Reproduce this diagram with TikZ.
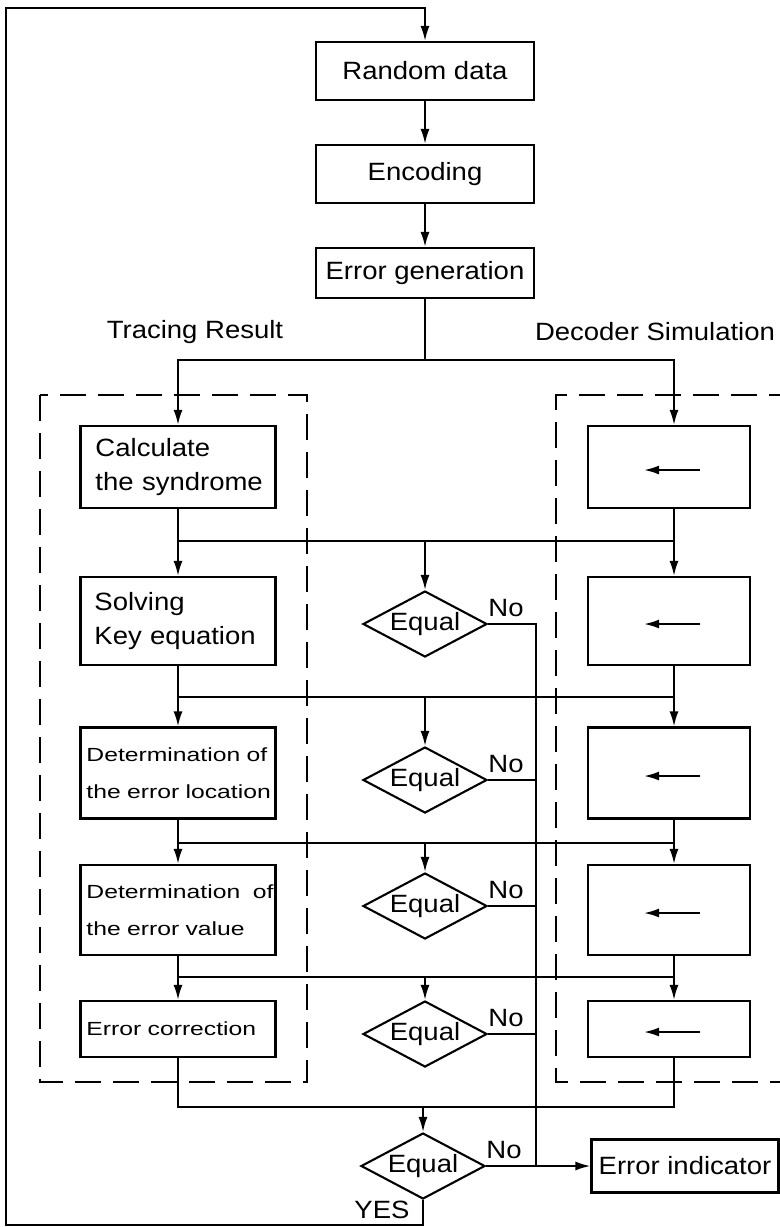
\documentclass[tikz,border=0pt]{standalone}
\usepackage{fontspec}
\setmainfont{Liberation Sans}[FakeStretch=1.1]
\newfontfamily\widesans{Liberation Sans}[FakeStretch=1.3]
\usetikzlibrary{shapes.geometric,arrows.meta,calc}
\newcommand\bigtxt{\fontsize{25bp}{34bp}\selectfont}
\newcommand\smalltxt{\widesans\fontsize{19bp}{37bp}\selectfont}
\begin{document}
\begin{tikzpicture}[x=1bp,y=-1bp,
  every node/.style={font=\bigtxt},
  line width=2bp,
  box/.style={draw, rectangle, line width=2.1bp, inner sep=0pt, align=center},
  lbox/.style={box, minimum width=195bp, align=left},
  rbox/.style={box, minimum width=162bp},
  test/.style={draw, diamond, aspect=2, inner sep=0pt, line width=2.1bp,
               minimum width=124bp, minimum height=66bp},
  arr/.style={-{Latex[length=15bp,width=9bp]}},
  frame/.style={line width=2bp, dash pattern=on 26bp off 12bp}]
\clip (0,0) rectangle (780,1227);

% main chain
\node[box, minimum width=218bp, minimum height=58bp] (rd) at (425,71) {Random data};
\node[box, minimum width=218bp, minimum height=58bp] (enc) at (425,174) {Encoding};
\node[box, minimum width=218bp, minimum height=50bp] (eg) at (425,273) {Error generation};

% column titles
\node (trace) at (195,332) {Tracing Result};
\node (sim) at (655,332) {Decoder Simulation};

% dashed frames
\draw[frame] (40,395) rectangle (307,1082);
\draw[frame] (795,395) -- (556,395) -- (556,1082) -- (795,1082);

% tracing column
\node[lbox, text width=165bp, inner xsep=15bp, minimum height=82bp] (L1) at (178,467)
  {\mbox{Calculate}\\\mbox{the syndrome}};
\node[lbox, text width=167bp, inner xsep=14bp, minimum height=88bp] (L2) at (178,621)
  {\mbox{Solving}\\\mbox{Key equation}};
\node[lbox, text width=183bp, inner xsep=6bp, minimum height=91bp, font=\smalltxt] (L3) at (178,773)
  {\mbox{Determination of}\\\mbox{the error location}};
\node[lbox, text width=183bp, inner xsep=6bp, minimum height=90bp, font=\smalltxt] (L4) at (178,910)
  {\mbox{Determination\ \ of}\\\mbox{the error value}};
\node[lbox, text width=183bp, inner xsep=6bp, minimum height=56bp, font=\smalltxt] (L5) at (178,1029)
  {\mbox{Error correction}};

% simulation column
\node[rbox, minimum height=82bp] (R1) at (669,467) {};
\node[rbox, minimum height=88bp] (R2) at (669,621) {};
\node[rbox, minimum height=91bp] (R3) at (669,773) {};
\node[rbox, minimum height=90bp] (R4) at (669,910) {};
\node[rbox, minimum height=56bp] (R5) at (669,1029) {};
\foreach \r in {R1,R2,R3,R4,R5}
  \draw[arr] ($(\r.center)+(31,3)$) -- ++(-56,0);

% comparisons
\node[test] (d1) at (425,624) {Equal};
\node[test] (d2) at (425,780) {Equal};
\node[test] (d3) at (425,906) {Equal};
\node[test] (d4) at (425,1034) {Equal};
\node[test] (d5) at (423,1166) {Equal};
\foreach \d in {d1,d2,d3,d4,d5}
  \node (no\d) at ($(\d.east)+(18,-16)$) {No};
\node (yes) at (382,1210) {YES};

\node[box, minimum width=187bp, minimum height=53bp] (err) at (685,1166) {Error indicator};

% helper points
\coordinate (rcol) at (674,0);
\coordinate (bus) at (536,0);
\coordinate (split) at (425,360);
\coordinate (h1) at (425,541);
\coordinate (h2) at (425,697);
\coordinate (h3) at (425,843);
\coordinate (h4) at (425,977);
\coordinate (h5) at (425,1107);
\coordinate (loopBL) at (6,1225);
\coordinate (loopTL) at (6,8);

% connectors
\draw[arr] (rd) -- (enc);
\draw[arr] (enc) -- (eg);
\draw (eg.south) -- (split);
\draw[arr] (split) -| (L1.north);
\draw[arr] (split) -| (rcol |- R1.north);

\draw (L1.south) -- (L1.south |- h1) -- (rcol |- h1) -- (rcol |- R1.south);
\draw[arr] (L1.south |- h1) -- (L2.north);
\draw[arr] (h1) -- (d1.north);
\draw[arr] (rcol |- h1) -- (rcol |- R2.north);

\draw (L2.south) -- (L2.south |- h2) -- (rcol |- h2) -- (rcol |- R2.south);
\draw[arr] (L2.south |- h2) -- (L3.north);
\draw[arr] (h2) -- (d2.north);
\draw[arr] (rcol |- h2) -- (rcol |- R3.north);

\draw (L3.south) -- (L3.south |- h3) -- (rcol |- h3) -- (rcol |- R3.south);
\draw[arr] (L3.south |- h3) -- (L4.north);
\draw[arr] (h3) -- (d3.north);
\draw[arr] (rcol |- h3) -- (rcol |- R4.north);

\draw (L4.south) -- (L4.south |- h4) -- (rcol |- h4) -- (rcol |- R4.south);
\draw[arr] (L4.south |- h4) -- (L5.north);
\draw[arr] (h4) -- (d4.north);
\draw[arr] (rcol |- h4) -- (rcol |- R5.north);

\draw (L5.south) -- (L5.south |- h5) -- (rcol |- h5) -- (rcol |- R5.south);
\draw[arr] (h5 -| d5.north) -- (d5.north);

% mismatch outputs
\draw (d1.east) -- (d1.east -| bus) -- (d5.east -| bus);
\draw (d2.east) -- (d2.east -| bus);
\draw (d3.east) -- (d3.east -| bus);
\draw (d4.east) -- (d4.east -| bus);
\draw[arr] (d5.east) -- (d5.east -| err.west);

% loop back to new data
\draw[arr] (d5.south) |- (loopBL) -- (loopTL) -| (rd.north);
\end{tikzpicture}
\end{document}
